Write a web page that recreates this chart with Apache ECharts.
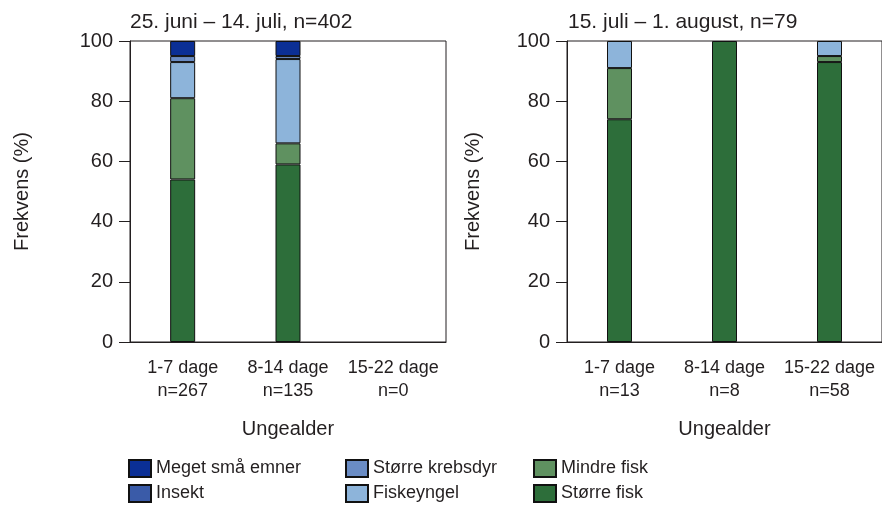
<!DOCTYPE html>
<html>
<head>
<meta charset="utf-8">
<script src="https://cdn.jsdelivr.net/npm/echarts@6/dist/echarts.min.js"></script>
<style>
  html, body { margin: 0; padding: 0; background: #fff; }
  #chart { width: 882px; height: 515px; }
</style>
</head>
<body>
<div id="chart"></div>
<script>
// Diet composition (% frequency) by juvenile age, two sampling periods
var periodTitles = ['25. juni \u2013 14. juli, n=402', '15. juli \u2013 1. august, n=79'];
var categoriesEarly = ['1-7 dage\nn=267', '8-14 dage\nn=135', '15-22 dage\nn=0'];
var categoriesLate = ['1-7 dage\nn=13', '8-14 dage\nn=8', '15-22 dage\nn=58'];
var yTicks = [0, 20, 40, 60, 80, 100];

// Stack order: bottom to top
var preyNames = ['Større fisk', 'Mindre fisk', 'Fiskeyngel', 'Større krebsdyr', 'Insekt', 'Meget små emner'];
var preyColors = ['#2d6e3a', '#5f9160', '#8db4da', '#6a8cc4', '#3a5ba8', '#0b2f95'];

var earlyStorreFisk     = [54, 59, null];
var earlyMindreFisk     = [27, 7, null];
var earlyFiskeyngel     = [12, 28, null];
var earlyKrebsdyr       = [2, 1, null];
var earlyInsekt         = [null, null, null];
var earlyMegetSmaa      = [5, 5, null];

var lateStorreFisk      = [74, 100, 93];
var lateMindreFisk      = [17, null, 2];
var lateFiskeyngel      = [9, null, 5];
var lateKrebsdyr        = [null, null, null];
var lateInsekt          = [null, null, null];
var lateMegetSmaa       = [null, null, null];

var earlyValues = [earlyStorreFisk, earlyMindreFisk, earlyFiskeyngel, earlyKrebsdyr, earlyInsekt, earlyMegetSmaa];
var lateValues = [lateStorreFisk, lateMindreFisk, lateFiskeyngel, lateKrebsdyr, lateInsekt, lateMegetSmaa];

var FONT = '"Liberation Sans", Arial, sans-serif';
var INK = '#231f20';

function xAxisFor(idx, cats) {
  return {
    type: 'category', gridIndex: idx, data: cats,
    name: 'Ungealder', nameLocation: 'middle', nameGap: 77,
    nameTextStyle: { fontSize: 20, color: INK, fontFamily: FONT },
    axisLine: { lineStyle: { color: INK, width: 1 } },
    axisTick: { length: 6, lineStyle: { color: INK } },
    axisLabel: { fontSize: 18, lineHeight: 23, margin: 15, color: INK, fontFamily: FONT, interval: 0 }
  };
}
function yAxisFor(idx, gap) {
  return {
    type: 'value', gridIndex: idx, min: yTicks[0], max: yTicks[yTicks.length - 1], interval: 20,
    name: 'Frekvens (%)', nameLocation: 'middle', nameGap: gap,
    nameTextStyle: { fontSize: 20, color: INK, fontFamily: FONT },
    splitLine: { show: false },
    axisLine: { show: true, lineStyle: { color: INK, width: 1 } },
    axisTick: { show: true, length: 11, lineStyle: { color: INK } },
    axisLabel: { fontSize: 20, margin: 17, color: INK, fontFamily: FONT }
  };
}

var series = [];
[earlyValues, lateValues].forEach(function (vals, g) {
  preyNames.forEach(function (name, i) {
    series.push({
      name: name, type: 'bar', stack: 'diet' + g,
      xAxisIndex: g, yAxisIndex: g,
      barWidth: 25,
      itemStyle: { color: preyColors[i], borderColor: '#111', borderWidth: 1 },
      emphasis: { disabled: true },
      data: vals[i]
    });
  });
});

function legendColumn(left, names) {
  return {
    orient: 'vertical', left: left, top: 459, itemWidth: 22, itemHeight: 17, itemGap: 6,
    padding: 0, icon: 'rect',
    textStyle: { fontSize: 18, color: INK, fontFamily: FONT },
    data: names
  };
}

var chart = echarts.init(document.getElementById('chart'), null, { renderer: 'canvas' });
chart.setOption({
  animation: false,
  backgroundColor: '#fff',
  title: [
    { text: periodTitles[0], left: 130, top: 12, padding: 0,
      textStyle: { fontSize: 21, fontWeight: 'normal', color: INK, fontFamily: FONT } },
    { text: periodTitles[1], left: 568, top: 12, padding: 0,
      textStyle: { fontSize: 21, fontWeight: 'normal', color: INK, fontFamily: FONT } }
  ],
  grid: [
    { left: 130, top: 41, width: 316, height: 301, show: true, borderColor: INK, borderWidth: 1, backgroundColor: 'transparent' },
    { left: 567, top: 41, width: 318, height: 301, show: true, borderColor: INK, borderWidth: 1, backgroundColor: 'transparent' }
  ],
  xAxis: [xAxisFor(0, categoriesEarly), xAxisFor(1, categoriesLate)],
  yAxis: [yAxisFor(0, 98), yAxisFor(1, 84)],
  legend: [
    legendColumn(128, ['Meget små emner', 'Insekt']),
    legendColumn(345, ['Større krebsdyr', 'Fiskeyngel']),
    legendColumn(533, ['Mindre fisk', 'Større fisk'])
  ],
  series: series
});
</script>
</body>
</html>
